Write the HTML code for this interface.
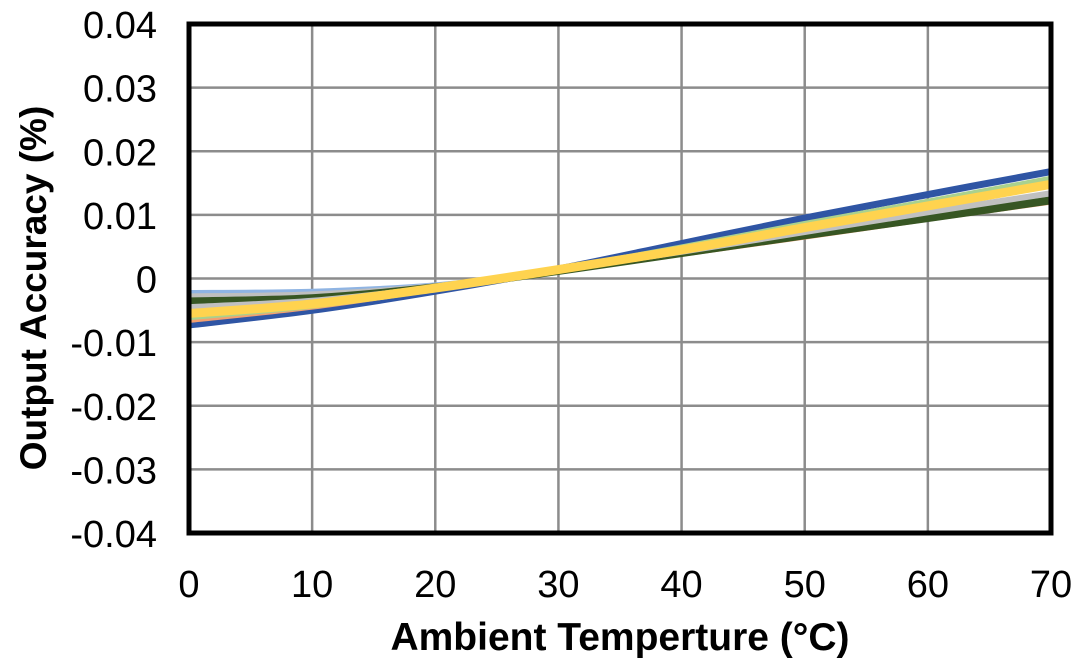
<!DOCTYPE html>
<html><head><meta charset="utf-8"><style>
body{margin:0;background:#fff}
svg{display:block;font-family:"Liberation Sans",Arial,sans-serif}
</style></head><body>
<svg id="chart" width="1080" height="666" viewBox="0 0 1080 666" xmlns="http://www.w3.org/2000/svg">
<g id="grid"></g>
<g id="series"></g>
<rect x="189" y="24" width="862" height="509" fill="none" stroke="#000" stroke-width="5"/>
<g id="yticks" font-size="38" text-anchor="end" fill="#000"></g>
<g id="xticks" font-size="38" text-anchor="middle" fill="#000"></g>
<text transform="translate(46,288) rotate(-90)" text-anchor="middle" font-size="37" font-weight="bold">Output Accuracy (%)</text>
<text x="620" y="650" text-anchor="middle" font-size="39" font-weight="bold">Ambient Temperture (°C)</text>
</svg>
<script>
const xCats=[0,10,20,30,40,50,60,70];
const yTicks=[0.04,0.03,0.02,0.01,0,-0.01,-0.02,-0.03,-0.04];
const yTickLabels=["0.04","0.03","0.02","0.01","0","-0.01","-0.02","-0.03","-0.04"];
const sDarkBlue=[-0.0073,-0.0050,-0.0020,0.0015,0.0055,0.0095,0.0132,0.0168];
const sLightBlue=[-0.0022,-0.0020,-0.0010,0.0012,0.0040,0.0068,0.0096,0.0125];
const sOrange=[-0.0066,-0.0045,-0.0017,0.0012,0.0038,0.0065,0.0093,0.0120];
const sGrey=[-0.0028,-0.0025,-0.0012,0.0012,0.0040,0.0070,0.0100,0.0130];
const sLightGreen=[-0.0060,-0.0042,-0.0016,0.0014,0.0048,0.0085,0.0120,0.0156];
const sDarkGreen=[-0.0036,-0.0031,-0.0014,0.0012,0.0040,0.0068,0.0095,0.0123];
const sGrey2=[-0.0045,-0.0035,-0.0014,0.0013,0.0042,0.0073,0.0104,0.0134];
const sYellow=[-0.0055,-0.0040,-0.0015,0.0014,0.0045,0.0080,0.0114,0.0148];
const seriesList=[[sDarkBlue,"#2f55a4",7],[sLightBlue,"#8fb4e3",5],[sOrange,"#f4a070",5],[sGrey,"#bfbfbf",6],[sLightGreen,"#a9d18e",7],[sDarkGreen,"#375623",8],[sGrey2,"#c0c0c0",6],[sYellow,"#ffd34f",9]];
const X0=189,X1=1051,Y0=24,Y1=533;
const xs=v=>X0+(v-0)/(70-0)*(X1-X0);
const ys=v=>Y0+(0.04-v)/0.08*(Y1-Y0);
const NS="http://www.w3.org/2000/svg";
const grid=document.getElementById('grid');
xCats.forEach(c=>{const l=document.createElementNS(NS,'line');


l.setAttribute('x1',xs(c));l.setAttribute('x2',xs(c));l.setAttribute('y1',Y0);l.setAttribute('y2',Y1);l.setAttribute('stroke','#8c8c8c');l.setAttribute('stroke-width','2.5');grid.appendChild(l);
const t=document.createElementNS(NS,'text');


t.setAttribute('x',xs(c));t.setAttribute('y',597);t.textContent=c;document.getElementById('xticks').appendChild(t);});
yTicks.forEach((v,i)=>{const l=document.createElementNS(NS,'line');


l.setAttribute('x1',X0);l.setAttribute('x2',X1);l.setAttribute('y1',ys(v));l.setAttribute('y2',ys(v));l.setAttribute('stroke','#8c8c8c');l.setAttribute('stroke-width','2.5');grid.appendChild(l);
const t=document.createElementNS(NS,'text');


t.setAttribute('x',157);t.setAttribute('y',ys(v)+14);t.textContent=yTickLabels[i];document.getElementById('yticks').appendChild(t);});
const sg=document.getElementById('series');
seriesList.forEach(([vals,col,w])=>{
const pts=vals.map((v,i)=>[xs(xCats[i]),ys(v)]);
let d=`M${pts[0][0]},${pts[0][1]}`;
for(let i=0;i<pts.length-1;i++){const p0=pts[Math.max(i-1,0)],p1=pts[i],p2=pts[i+1],p3=pts[Math.min(i+2,pts.length-1)];
d+=` C${p1[0]+(p2[0]-p0[0])/6},${p1[1]+(p2[1]-p0[1])/6} ${p2[0]-(p3[0]-p1[0])/6},${p2[1]-(p3[1]-p1[1])/6} ${p2[0]},${p2[1]}`;}
const p=document.createElementNS(NS,'path');


p.setAttribute('d',d);p.setAttribute('fill','none');p.setAttribute('stroke',col);p.setAttribute('stroke-width',w);sg.appendChild(p);});
</script>
</body></html>
